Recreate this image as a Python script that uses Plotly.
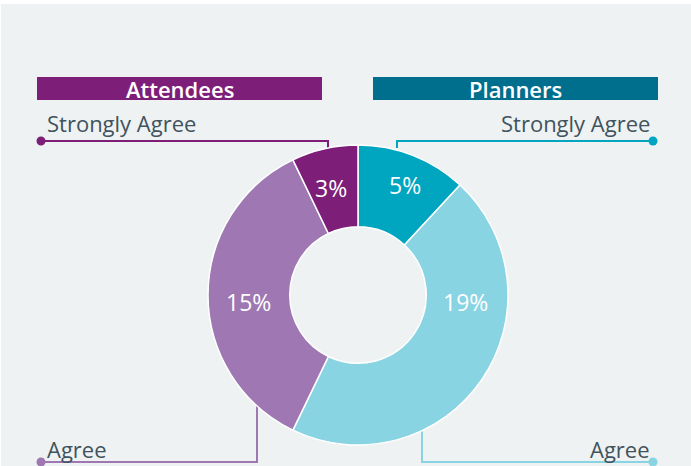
import plotly.graph_objects as go

# Data
groups = ["Planners", "Planners", "Attendees", "Attendees"]
responses = ["Strongly Agree", "Agree", "Agree", "Strongly Agree"]
values = [5, 19, 15, 3]
labels_pct = ["5%", "19%", "15%", "3%"]
slice_colors = ["#00A5C0", "#89D4E2", "#9E77B3", "#7D1E79"]
header_titles = ["Attendees", "Planners"]
header_colors = ["#7D1E79", "#006E8D"]

# label placement (pixel positions of percent texts)
pct_pos = [(405, 185), (465, 302), (248, 302), (331, 188)]

W, H = 691, 466
BG = "#EEF2F3"
TXT = "#41535C"
FONT = "Open Sans"

fig = go.Figure()

fig.add_trace(go.Pie(
    values=values,
    labels=[f"{g} {r}" for g, r in zip(groups, responses)],
    text=labels_pct,
    textinfo="none",
    marker=dict(colors=slice_colors, line=dict(color="white", width=1.5)),
    hole=0.455,
    sort=False,
    direction="clockwise",
    rotation=0,
    showlegend=False,
    domain=dict(x=[208 / W, 508 / W], y=[(H - 445) / H, (H - 145) / H]),
    hoverinfo="label+text",
))

# invisible pixel axis for annotations / connectors
fig.add_trace(go.Scatter(x=[0, W], y=[0, H], mode="markers",
                         marker=dict(opacity=0), showlegend=False, hoverinfo="skip"))

shapes = [dict(type="rect", x0=1, x1=W, y0=4, y1=H, xref="x", yref="y",
               fillcolor=BG, line=dict(width=0), layer="below")]
annotations = []

# headers
hdr_x = [(37, 322), (373, 658)]
for (x0, x1), t, c in zip(hdr_x, header_titles, header_colors):
    shapes.append(dict(type="rect", x0=x0, x1=x1, y0=77, y1=100, xref="x", yref="y",
                       fillcolor=c, line=dict(width=0), layer="below"))
    annotations.append(dict(x=(x0 + x1) / 2, y=89, xref="x", yref="y", text=t,
                            showarrow=False,
                            font=dict(family=FONT, size=22, color="white", weight=600),
                            xanchor="center", yanchor="middle"))

# connectors: (dot x, dot y, elbow x, end y, color, label, side, text y)
connectors = [
    (41, 141, 328, 152, slice_colors[3], responses[3], "left", 123),
    (653, 141, 397, 148, slice_colors[0], responses[0], "right", 123),
    (41, 462, 257, 405, slice_colors[2], responses[2], "left", 449),
    (653, 462, 422, 430, slice_colors[1], responses[1], "right", 449),
]
for dx, dy, ex, ey, c, lab, side, ty in connectors:
    shapes.append(dict(type="path", path=f"M {dx},{dy} L {ex},{dy} L {ex},{ey}",
                       xref="x", yref="y", line=dict(color=c, width=2), layer="below"))
    shapes.append(dict(type="circle", x0=dx - 4.5, x1=dx + 4.5, y0=dy - 4.5, y1=dy + 4.5,
                       xref="x", yref="y", fillcolor=c, line=dict(width=0)))
    if side == "left":
        annotations.append(dict(x=45, y=ty, xref="x", yref="y", text=lab, showarrow=False,
                                xanchor="left", yanchor="middle",
                                font=dict(family=FONT, size=22, color=TXT)))
    else:
        annotations.append(dict(x=652, y=ty, xref="x", yref="y", text=lab, showarrow=False,
                                xanchor="right", yanchor="middle",
                                font=dict(family=FONT, size=22, color=TXT)))

for (px, py), t in zip(pct_pos, labels_pct):
    annotations.append(dict(x=px, y=py, xref="x", yref="y", text=t, showarrow=False,
                            xanchor="center", yanchor="middle",
                            font=dict(family=FONT, size=23, color="white")))

fig.update_layout(
    width=W, height=H,
    margin=dict(l=0, r=0, t=0, b=0),
    paper_bgcolor="white", plot_bgcolor="white",
    xaxis=dict(range=[0, W], visible=False, fixedrange=True),
    yaxis=dict(range=[H, 0], visible=False, fixedrange=True),
    shapes=shapes,
    annotations=annotations,
)

fig.write_html("out.html", config={"displayModeBar": False},
               post_script="document.body.style.margin='0px';document.body.style.overflow='hidden';")
